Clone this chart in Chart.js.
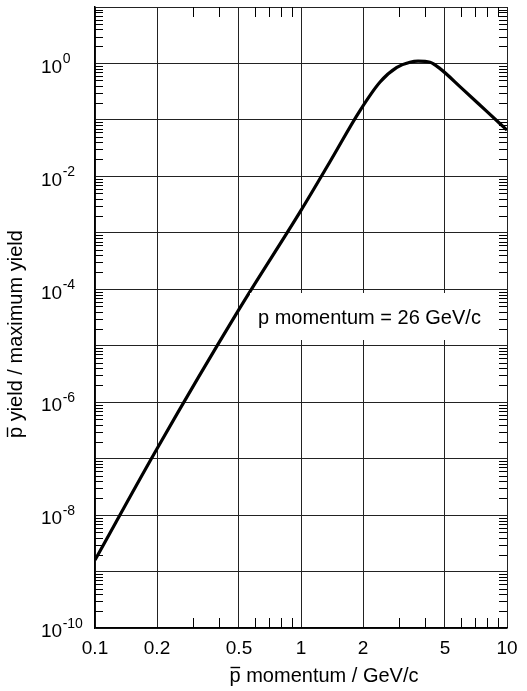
<!DOCTYPE html>
<html>
<head>
<meta charset="utf-8">
<script src="https://cdn.jsdelivr.net/npm/chart.js@4.4.1/dist/chart.umd.min.js"></script>
<style>
  body { margin: 0; background: #fff; }
</style>
</head>
<body>
<canvas id="container" width="527" height="691"></canvas>
<script>
// values
var momentum   = [0.1, 0.2, 0.5, 1, 1.38, 1.93, 2.42, 2.92, 3.38, 3.7, 4.23, 4.73, 6.0, 8.0, 10];
var yieldRatio = [1.6e-9, 1.5e-7, 4.4e-5, 2.5e-3, 0.018, 0.145, 0.47, 0.85, 1.05, 1.1, 1.05, 0.81, 0.37, 0.14, 0.066];
var xTicks = [0.1, 0.2, 0.5, 1, 2, 5, 10];
var yDecades = [-10, -9, -8, -7, -6, -5, -4, -3, -2, -1, 0, 1];
var yLabelExps = [0, -2, -4, -6, -8, -10];
var xTitle = 'p momentum / GeV/c';
var yTitle = 'p yield / maximum yield';
var note = 'p momentum = 26 GeV/c';

var FONT = '"Liberation Sans", Arial, sans-serif';

// p with a bar over it, drawn at (0,0) baseline-left in current transform
function barP(ctx, text, size) {
  ctx.font = size + 'px ' + FONT;
  ctx.textAlign = 'left';
  ctx.textBaseline = 'alphabetic';
  ctx.fillText(text, 0, 0);
  var pw = ctx.measureText('p').width;
  ctx.beginPath();
  ctx.lineWidth = 1.4;
  ctx.moveTo(1, -14.5);
  ctx.lineTo(pw - 0.5, -14.5);
  ctx.stroke();
}

var extras = {
  id: 'extras',
  beforeDatasetsDraw: function(chart) {
    var ctx = chart.ctx, xs = chart.scales.x, ys = chart.scales.y, a = chart.chartArea;
    ctx.save();
    ctx.strokeStyle = '#000';
    ctx.lineWidth = 1;
    ctx.beginPath();
    for (var e = -10; e < 1; e++) {
      for (var m = 2; m <= 9; m++) {
        var y = Math.round(ys.getPixelForValue(m * Math.pow(10, e))) + 0.5;
        ctx.moveTo(a.left, y); ctx.lineTo(a.left + 8, y);
        ctx.moveTo(a.right, y); ctx.lineTo(a.right - 8, y);
      }
    }
    [0.3, 0.4, 0.6, 0.7, 0.8, 0.9, 3, 4, 6, 7, 8, 9].forEach(function(v) {
      var x = Math.round(xs.getPixelForValue(v)) + 0.5;
      ctx.moveTo(x, a.bottom); ctx.lineTo(x, a.bottom - 10);
      ctx.moveTo(x, a.top); ctx.lineTo(x, a.top + 10);
    });
    ctx.stroke();
    ctx.restore();
  },
  afterDraw: function(chart) {
    var ctx = chart.ctx, ys = chart.scales.y;
    ctx.save();
    ctx.fillStyle = '#000';
    ctx.strokeStyle = '#000';
    // y tick labels 10^n
    yLabelExps.forEach(function(e) {
      var y = ys.getPixelForValue(Math.pow(10, e));
      ctx.font = '19px ' + FONT;
      ctx.textAlign = 'left';
      ctx.textBaseline = 'middle';
      ctx.fillText('10', 41, y + 4);
      var w = ctx.measureText('10').width;
      ctx.font = '14px ' + FONT;
      ctx.fillText(String(e), 41 + w + 0.5, y - 4);
    });
    // note with white box
    ctx.fillStyle = '#fff';
    ctx.fillRect(250, 293, 242, 47);
    ctx.fillStyle = '#000';
    ctx.font = '20px ' + FONT;
    ctx.textAlign = 'left';
    ctx.textBaseline = 'middle';
    ctx.fillText(note, 258, 318);
    // x title
    ctx.font = '20px ' + FONT;
    var tw = ctx.measureText(xTitle).width;
    ctx.save();
    ctx.translate(324 - tw / 2, 682);
    barP(ctx, xTitle, 20);
    ctx.restore();
    // y title
    ctx.save();
    ctx.translate(22, 438);
    ctx.rotate(-Math.PI / 2);
    barP(ctx, yTitle, 20);
    ctx.restore();
    ctx.restore();
  }
};

var ctx = document.getElementById('container');
new Chart(ctx, {
  type: 'line',
  data: {
    datasets: [{
      data: momentum.map(function(m, i) { return { x: m, y: yieldRatio[i] }; }),
      borderColor: '#000',
      borderWidth: 3.2,
      pointRadius: 0,
      cubicInterpolationMode: 'monotone',
      fill: false
    }]
  },
  options: {
    responsive: false,
    devicePixelRatio: 1,
    animation: false,
    layout: { padding: { top: 7, right: 20, left: 0, bottom: 0 } },
    plugins: { legend: { display: false }, tooltip: { enabled: false } },
    scales: {
      x: {
        type: 'logarithmic',
        min: 0.1,
        max: 10,
        afterBuildTicks: function(s) { s.ticks = xTicks.map(function(v) { return { value: v }; }); },
        afterFit: function(s) { s.height = 63; },
        grid: { color: '#222', lineWidth: 1, drawTicks: false },
        border: { display: true, color: '#000', width: 1.5 },
        ticks: {
          color: '#000',
          font: { family: FONT, size: 19 },
          padding: 9,
          maxRotation: 0,
          autoSkip: false,
          callback: function(v) { return String(v); }
        }
      },
      y: {
        type: 'logarithmic',
        min: 1e-10,
        max: 10,
        afterBuildTicks: function(s) { s.ticks = yDecades.map(function(e) { return { value: Math.pow(10, e) }; }); },
        afterFit: function(s) { s.width = 95; },
        grid: { color: '#222', lineWidth: 1, drawTicks: false },
        border: { display: true, color: '#000', width: 1.5 },
        ticks: { display: false }
      }
    }
  },
  plugins: [extras]
});
</script>
</body>
</html>
